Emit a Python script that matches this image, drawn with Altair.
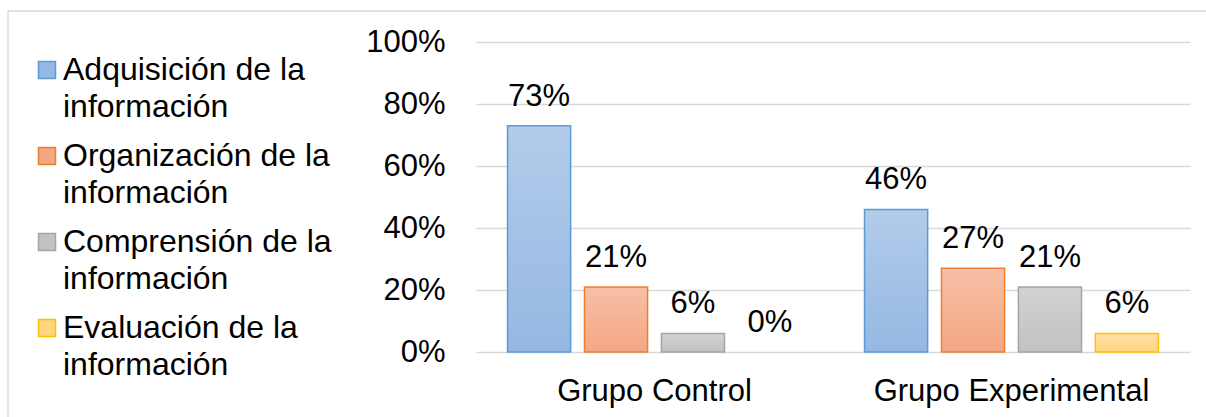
import altair as alt
import pandas as pd

grupos = ["Grupo Control", "Grupo Experimental"]
series = [
    "Adquisición de la información",
    "Organización de la información",
    "Comprensión de la información",
    "Evaluación de la información",
]
control = [0.73, 0.21, 0.06, 0.00]
experimental = [0.46, 0.27, 0.21, 0.06]

fills = ["#95b8e2", "#f4a783", "#c2c2c2", "#ffd680"]
strokes = ["#5b9bd5", "#ed7d31", "#a5a5a5", "#ffc000"]

rows = []
for g, vals in zip(grupos, [control, experimental]):
    for s, v in zip(series, vals):
        rows.append({"grupo": g, "serie": s, "valor": v})
df = pd.DataFrame(rows)

FONT = "Liberation Sans"
FS = 31

legend_def = alt.Legend(
    title=None,
    orient="none",
    legendX=-445,
    legendY=12,
    padding=0,
    symbolType="square",
    symbolSize=289,
    symbolStrokeWidth=1.5,
    labelFont=FONT,
    labelFontSize=32,
    labelColor="#000000",
    labelLimit=500,
    labelOffset=0,
    labelBaseline="middle",
    rowPadding=17,
    labelExpr="[replace(datum.label, ' información', ''), 'información']",
)

base = alt.Chart(df).encode(
    x=alt.X(
        "grupo:N",
        sort=grupos,
        scale=alt.Scale(paddingInner=0, paddingOuter=0),
        axis=alt.Axis(
            title=None,
            labelAngle=0,
            domain=False,
            ticks=False,
            labelPadding=24,
            labelLimit=500,
            labelFont=FONT,
            labelFontSize=FS,
            labelColor="#000000",
        ),
    ),
    xOffset=alt.XOffset(
        "serie:N", sort=series, scale=alt.Scale(paddingInner=0.18, paddingOuter=0.41)
    ),
    y=alt.Y(
        "valor:Q",
        scale=alt.Scale(domain=[0, 1]),
        axis=alt.Axis(
            title=None,
            values=[0, 0.2, 0.4, 0.6, 0.8, 1.0],
            format=".0%",
            domain=False,
            ticks=False,
            grid=True,
            gridColor="#d9d9d9",
            gridWidth=1.3,
            labelPadding=31,
            labelFont=FONT,
            labelFontSize=FS,
            labelColor="#000000",
        ),
    ),
)

fill_layer = base.mark_bar(strokeWidth=0).encode(
    color=alt.Color("serie:N", sort=series,
                    scale=alt.Scale(domain=series, range=fills), legend=legend_def)
)

gradient = alt.LinearGradient(
    gradient="linear",
    x1=0, x2=0, y1=0, y2=1,
    stops=[
        alt.GradientStop(color="rgba(255,255,255,0.28)", offset=0),
        alt.GradientStop(color="rgba(255,255,255,0)", offset=1),
    ],
)
overlay = base.mark_bar(fill=gradient, strokeWidth=0)

stroke_layer = base.mark_bar(fillOpacity=0, strokeWidth=1.5).encode(
    stroke=alt.Stroke("serie:N", sort=series,
                      scale=alt.Scale(domain=series, range=strokes), legend=legend_def),
    strokeOpacity=alt.condition("datum.valor > 0", alt.value(1), alt.value(0)),
)

labels = base.mark_text(
    dy=-20, baseline="alphabetic", font=FONT, fontSize=FS, color="#000000"
).encode(text=alt.Text("valor:Q", format=".0%"))

frame = alt.Chart(alt.Data(values=[{"a": 1}])).mark_rect(
    fillOpacity=0, stroke="#d9d9d9", strokeWidth=1.3
).encode(
    x=alt.value(-468), x2=alt.value(760), y=alt.value(-31), y2=alt.value(400)
)

chart = alt.layer(frame, fill_layer, overlay, stroke_layer, labels).properties(
    width=714,
    height=310,
    autosize=alt.AutoSizeParams(type="none"),
    padding={"left": 476, "top": 42, "right": 16, "bottom": 65},
    background="white",
).configure(
    style={"guide-label": {"lineHeight": 37}},
    view=alt.ViewConfig(strokeWidth=0, stroke="transparent"),
)

chart.save("out.html", embed_options={"renderer": "svg", "actions": False})
